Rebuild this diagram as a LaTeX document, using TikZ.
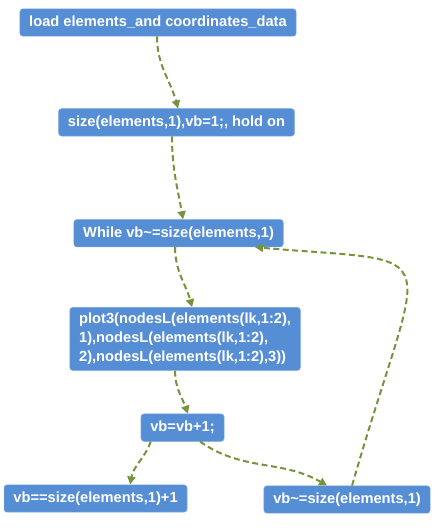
\documentclass[tikz,border=0pt]{standalone}
\usepackage{fontspec}
\setmainfont{Liberation Sans}
\usetikzlibrary{arrows.meta, positioning}
\definecolor{stepblue}{HTML}{558ED5}
\definecolor{flowgreen}{HTML}{77933C}

\begin{document}
\begin{tikzpicture}[x=0.75pt, y=-0.75pt,
      stepbox/.style={fill=stepblue, draw=stepblue!80!white, rounded corners=2.25pt,
                      text=white, font=\fontsize{11}{14.25}\selectfont\bfseries,
                      minimum height=20.5pt, inner xsep=7pt, inner ysep=2pt},
      flow/.style={-{Triangle[length=6pt, width=6pt]}, flowgreen, line width=1.5pt,
                   dash pattern=on 4.5pt off 2.6pt}]
    \useasboundingbox (0,0) rectangle (438,532);
    \node[stepbox] (load) at (158,22.5) {load elements\_and coordinates\_data};
    \node[stepbox, below=54pt of load, xshift=13.9pt] (size) {size(elements,1),vb=1;, hold on};
    \node[stepbox, below=62.25pt of size, xshift=1.5pt] (while) {While vb\textasciitilde=size(elements,1)};
    \node[stepbox, below=45pt of while, xshift=4.9pt, minimum height=47.25pt,
          align=left] (plot) {plot3(nodesL(elements(lk,1:2),\\1),nodesL(elements(lk,1:2),\\2),nodesL(elements(lk,1:2),3))};
    \node[stepbox, below=32.25pt of plot, xshift=-1.9pt] (inc) {vb=vb+1;};
    \node[stepbox, below=32.25pt of inc, xshift=-65.25pt] (done) {vb==size(elements,1)+1};
    \node[stepbox, below=33pt of inc, xshift=123.4pt] (again) {vb\textasciitilde=size(elements,1)};
    % connectors
    \draw[flow] ([xshift=-0.75pt]load.south) to[out=-90, in=105] ([xshift=1.1pt]size.north);
    \draw[flow] ([xshift=-3.4pt]size.south) to[out=-90, in=100] ([xshift=3.4pt]while.north);
    \draw[flow] ([xshift=-2.6pt]while.south) to[out=-90, in=105] ([xshift=5.25pt]plot.north);
    \draw[flow] ([xshift=-7.5pt]plot.south) to[out=-90, in=110] ([xshift=4.1pt]inc.north);
    \draw[flow] ([xshift=7.5pt]inc.south west) to[out=-110, in=80] ([xshift=25.9pt]done.north);
    \draw[flow] ([xshift=13.1pt]inc.south) to[out=-35, in=150] ([xshift=-15pt]again.north);
    \draw[flow] ([xshift=3.75pt]again.north) to[out=74, in=-5, out distance=195pt, in distance=150pt]
      ([xshift=57.4pt]while.south);
  \end{tikzpicture}
\end{document}
